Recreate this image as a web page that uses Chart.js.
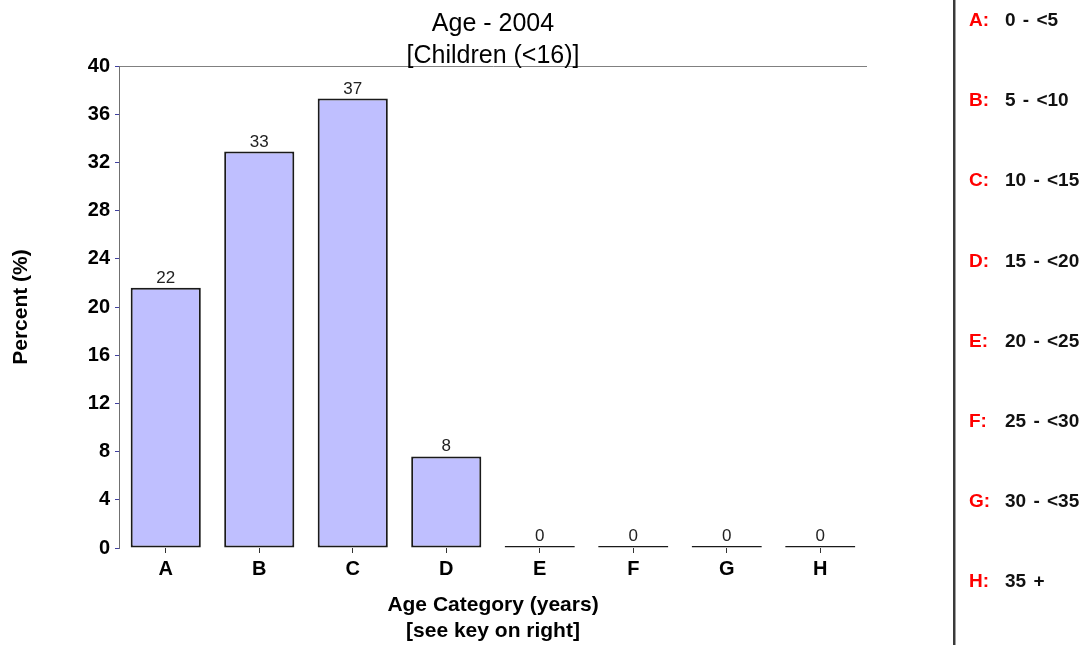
<!DOCTYPE html>
<html><head><meta charset="utf-8">
<script src="https://cdn.jsdelivr.net/npm/chart.js@4.4.0/dist/chart.umd.min.js"></script>
<style>
html,body{margin:0;padding:0;background:#fff;overflow:hidden;}
#wrap{position:relative;width:1089px;height:645px;background:#fff;}
#c{position:absolute;left:0;top:0;}
#sep{position:absolute;left:953px;top:0;width:2px;height:645px;background:#3a3a3a;border-right:1px solid #a0a0a0;}
.row{position:absolute;left:969px;height:22px;line-height:22px;width:120px;font:bold 19px "Liberation Sans",Arial,sans-serif;white-space:pre;word-spacing:2px;}
.row .k{color:#ff0000;position:absolute;left:0;top:0;}
.row .v{color:#111;position:absolute;left:36px;top:0;}
</style></head>
<body><div id="wrap"><canvas id="c" width="1089" height="645"></canvas><div id="sep"></div><div id="key"></div></div>
<script>
const categories = ['A','B','C','D','E','F','G','H'];
const percentValues = [21.6, 32.9, 37.3, 7.6, 0, 0, 0, 0];
const yTickValues = [0, 4, 8, 12, 16, 20, 24, 28, 32, 36, 40];
const keyRanges = ['0 - <5','5 - <10','10 - <15','15 - <20','20 - <25','25 - <30','30 - <35','35 +'];
const titleLines = ['Age - 2004', '[Children (<16)]'];
const xTitleLines = ['Age Category (years)', '[see key on right]'];
const yTitle = 'Percent (%)';

const FAM = '"Liberation Sans", Arial, sans-serif';

// key on the right
const key = document.getElementById('key');
categories.forEach((c, i) => {
  const d = document.createElement('div');
  d.className = 'row';
  d.style.top = (20 + i * 80.2 - 11) + 'px';
  const k = document.createElement('span'); k.className = 'k'; k.textContent = c + ':';
  const v = document.createElement('span'); v.className = 'v'; v.textContent = keyRanges[i];
  d.appendChild(k); d.appendChild(v);
  key.appendChild(d);
});

const valueLabels = {
  id: 'valueLabels',
  afterDatasetsDraw(chart) {
    const ctx = chart.ctx;
    const meta = chart.getDatasetMeta(0);
    ctx.save();
    ctx.font = '17px ' + FAM;
    ctx.fillStyle = '#222';
    ctx.textAlign = 'center';
    ctx.textBaseline = 'alphabetic';
    meta.data.forEach((bar, i) => {
      ctx.fillText(String(Math.round(percentValues[i])), bar.x, bar.y - 5);
    });
    ctx.restore();
  }
};

new Chart(document.getElementById('c'), {
  type: 'bar',
  data: {
    labels: categories,
    datasets: [{
      data: percentValues,
      backgroundColor: '#BFBFFF',
      borderColor: '#1a1a1a',
      borderWidth: 2,
      borderSkipped: false,
      minBarLength: 2,
      barPercentage: 0.75,
      categoryPercentage: 1.0
    }]
  },
  options: {
    responsive: false,
    animation: false,
    layout: { padding: { left: 0, right: 103, top: 0, bottom: 0 } },
    plugins: {
      legend: { display: false },
      tooltip: { enabled: false },
      title: {
        display: true,
        text: titleLines,
        color: '#000',
        font: { family: FAM, size: 25, weight: 'normal', lineHeight: 1.28 },
        padding: { top: 8, bottom: -6 }
      }
    },
    scales: {
      x: {
        border: { display: false },
        grid: { display: true, drawOnChartArea: false, offset: false, tickLength: 5, tickColor: '#333', tickWidth: 1 },
        ticks: { color: '#000', font: { family: FAM, size: 20, weight: 'bold' }, padding: 4 },
        title: {
          display: true, text: xTitleLines, color: '#000',
          font: { family: FAM, size: 21, weight: 'bold', lineHeight: 1.238 },
          padding: { top: 0, bottom: 1 }
        },
        afterFit(s) { s.height = 97; }
      },
      y: {
        min: 0, max: 40,
        afterBuildTicks(s) { s.ticks = yTickValues.map(v => ({ value: v })); },
        ticks: { color: '#000', font: { family: FAM, size: 20, weight: 'bold' }, padding: 5 },
        border: { display: true, color: '#707070', width: 1 },
        grid: {
          color: (ctx) => (ctx.tick && ctx.tick.value === 40) ? '#808080' : 'rgba(0,0,0,0)',
          tickColor: '#4040a0', tickLength: 4
        },
        title: {
          display: true, text: yTitle, color: '#000',
          font: { family: FAM, size: 21, weight: 'bold', lineHeight: 1.2 },
          padding: { top: 9, bottom: 0 }
        },
        afterFit(s) { s.width = 119; }
      },
      yKey: {
        position: 'right',
        display: true,
        grid: { display: false },
        border: { display: false },
        ticks: { display: false },
        afterFit(s) { s.width = 119; }
      }
    }
  },
  plugins: [valueLabels]
});
</script>
</body></html>
